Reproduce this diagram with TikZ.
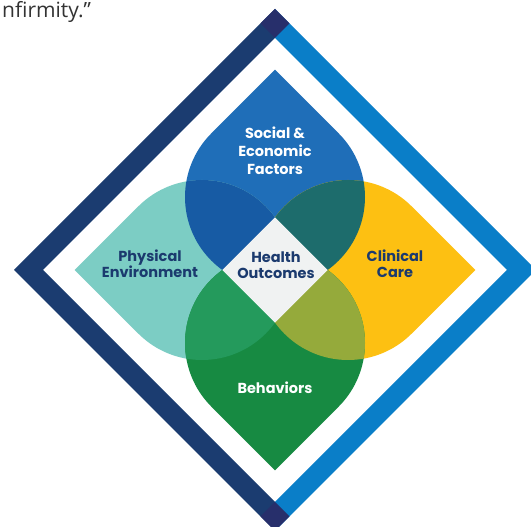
\documentclass[tikz,border=0pt]{standalone}
\usepackage{fontspec}
\setmainfont{Poppins}
\newfontfamily\quotefont{Open Sans}
\definecolor{navy}{HTML}{1B3A6E}
\definecolor{frameL}{HTML}{1B3C70}
\definecolor{frameR}{HTML}{0A7EC8}
\definecolor{frameTip}{HTML}{272F6B}
\definecolor{cTop}{HTML}{1F6EB8}
\definecolor{cLeft}{HTML}{7CCDC4}
\definecolor{cRight}{HTML}{FDC012}
\definecolor{cBot}{HTML}{178A42}
\definecolor{cTL}{HTML}{175BA4}
\definecolor{cTR}{HTML}{1D6C6C}
\definecolor{cBL}{HTML}{249A5C}
\definecolor{cBR}{HTML}{95AA3B}
\definecolor{cCenter}{HTML}{F0F2F2}
\definecolor{quotegrey}{HTML}{333333}
\newcommand\petalshape{(0,200.3) -- (-63.64,136.64) arc[start angle=135,end angle=405,radius=90pt] -- cycle}
\begin{document}
\begin{tikzpicture}[x=1pt,y=1pt,
  lbl/.style={font=\fontsize{14.5}{16}\selectfont\bfseries, align=center, inner sep=0pt},
  at center/.style={shift={(275,257)}}]
\useasboundingbox (0,0) rectangle (531,527);
\clip (0,0) rectangle (531,527);
\fill[white] (0,0) rectangle (531,527);
% frame
\fill[frameL] (275,518) -- (14,257) -- (275,-4) -- (275,25) -- (43,257) -- (275,489) -- cycle;
\fill[frameR] (275,518) -- (536,257) -- (275,-4) -- (275,25) -- (507,257) -- (275,489) -- cycle;
\fill[frameTip] (275,518) -- (289.5,503.5) -- (275,489) -- (260.5,503.5) -- cycle;
\fill[frameTip] (275,-4) -- (289.5,10.5) -- (275,25) -- (260.5,10.5) -- cycle;
% petals
\fill[cTop, at center] \petalshape;
\fill[cLeft, at center, rotate=90] \petalshape;
\fill[cRight, at center, rotate=-90] \petalshape;
\fill[cBot, at center, rotate=180] \petalshape;
% overlaps
\begin{scope}
  \clip[at center] \petalshape;
  \fill[cTL, at center, rotate=90] \petalshape;
  \fill[cTR, at center, rotate=-90] \petalshape;
\end{scope}
\begin{scope}
  \clip[at center, rotate=180] \petalshape;
  \fill[cBL, at center, rotate=90] \petalshape;
  \fill[cBR, at center, rotate=-90] \petalshape;
\end{scope}
% center diamond
\fill[cCenter] (275,309.6) -- (222.4,257) -- (275,204.4) -- (327.6,257) -- cycle;
% labels
\node[lbl, text=white] (sef) at (275,376) {Social \&\\[2pt]Economic\\[2pt]Factors};
\node[lbl, text=navy] (pe) at (150,263) {Physical\\Environment};
\node[lbl, text=navy] (ho) at (276,262) {Health\\Outcomes};
\node[lbl, text=navy] (cc) at (395,263) {Clinical\\Care};
\node[lbl, text=white] (beh) at (275,139) {Behaviors};
\node[anchor=base west, inner sep=0pt, text=quotegrey, font=\quotefont\fontsize{21}{24}\selectfont] (quote) at (2,509) {nfirmity.”};
\end{tikzpicture}
\end{document}
